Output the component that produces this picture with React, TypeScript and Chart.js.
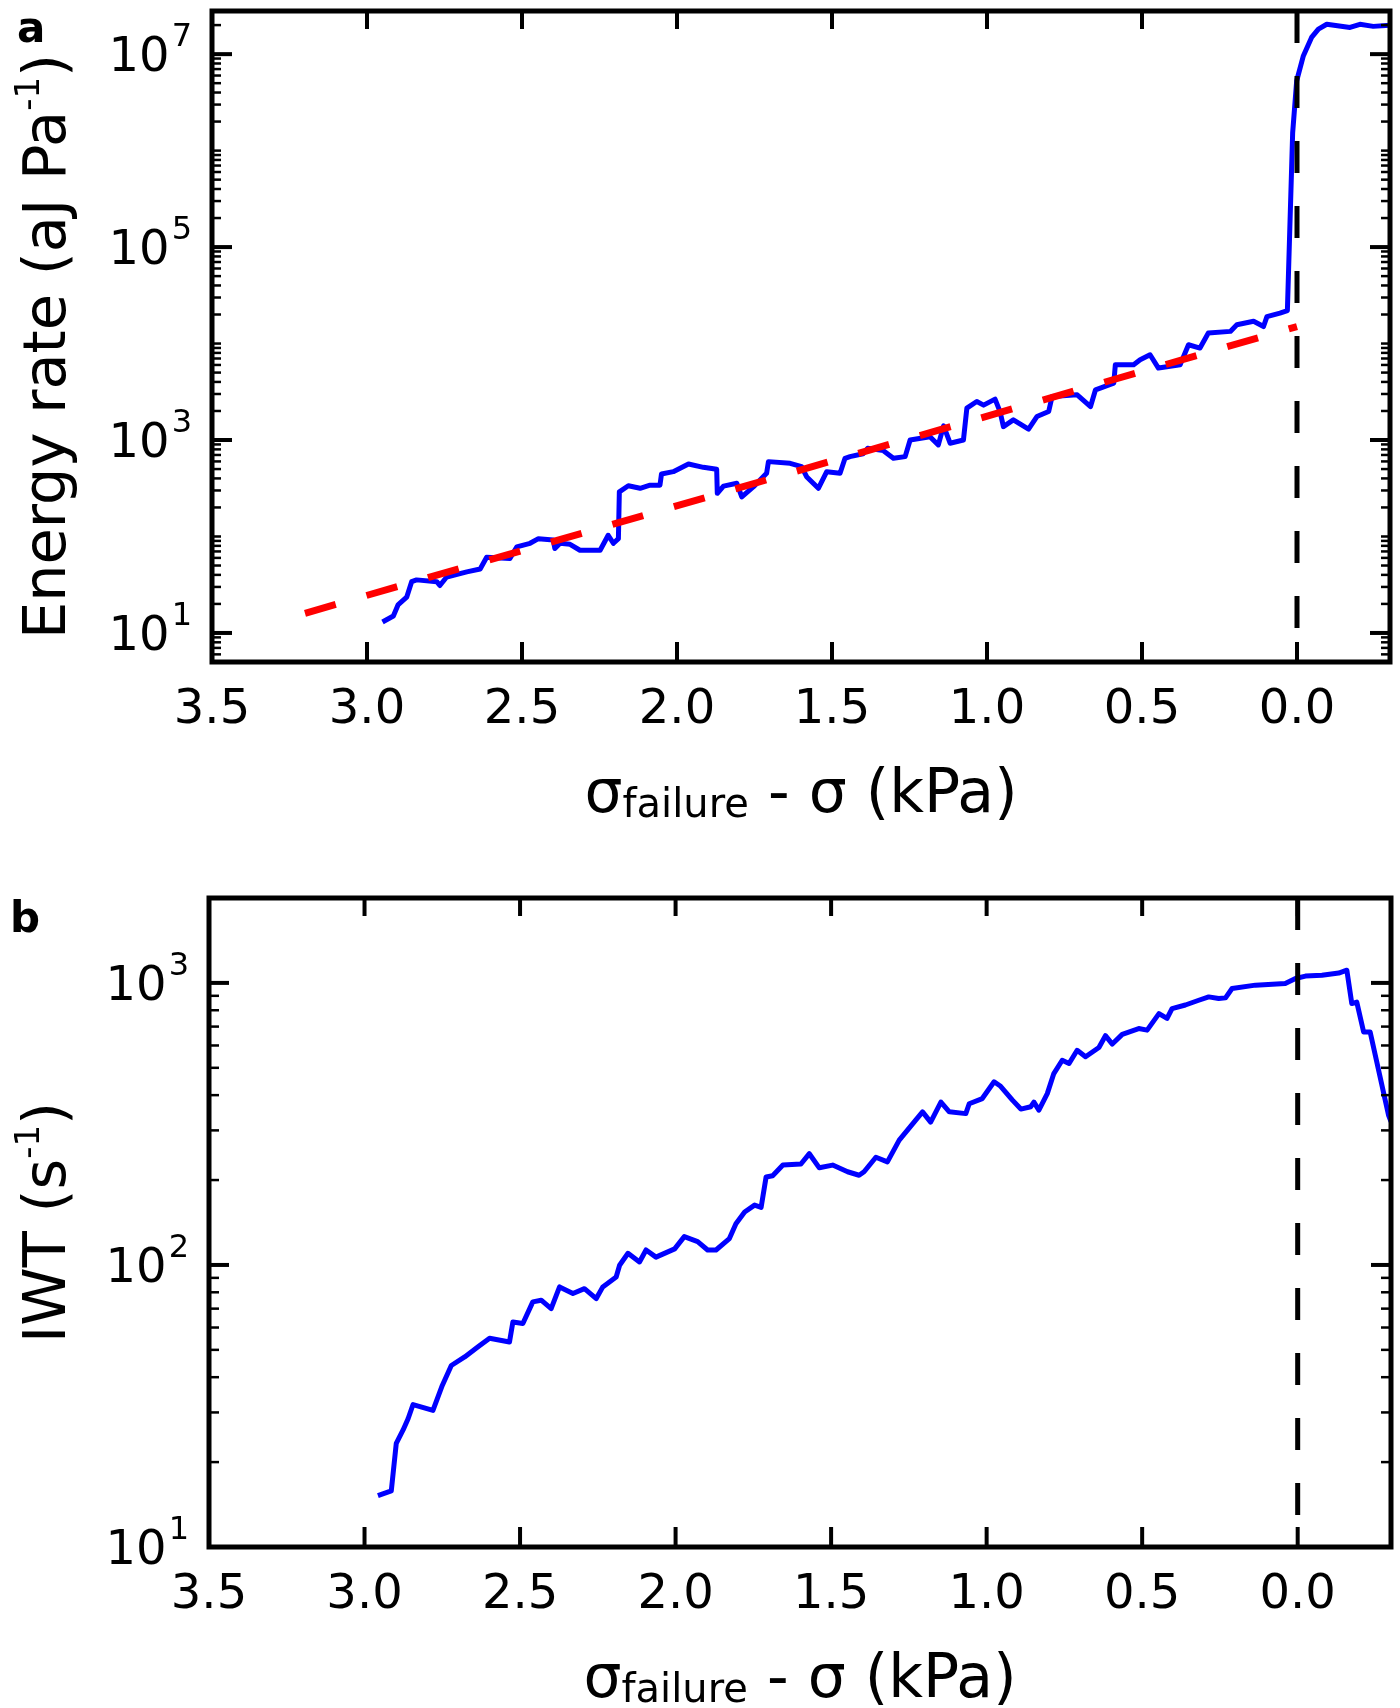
import { useEffect, useRef } from 'react';
import { Chart, registerables } from 'chart.js';

Chart.register(...registerables);

// panel a: energy rate (aJ Pa^-1) against sigma_failure - sigma (kPa)
const energyRate: [number, number][] = [
  [2.95, 13], [2.915, 15], [2.9, 19.5], [2.872, 23.5], [2.856, 34], [2.84, 35.5],
  [2.775, 34], [2.765, 31], [2.743, 38], [2.678, 43], [2.635, 46], [2.614, 61],
  [2.539, 59], [2.517, 78], [2.474, 85], [2.447, 95], [2.399, 92], [2.394, 75],
  [2.377, 85], [2.345, 83], [2.313, 72], [2.248, 72], [2.222, 103], [2.205, 85],
  [2.189, 95], [2.186, 290], [2.157, 336], [2.119, 316], [2.087, 340], [2.055, 340],
  [2.05, 445], [2.012, 470], [1.963, 565], [1.915, 521], [1.872, 498], [1.87, 280],
  [1.85, 333], [1.807, 356], [1.791, 257], [1.753, 328], [1.711, 452], [1.705, 597],
  [1.635, 574], [1.598, 530], [1.582, 417], [1.544, 316], [1.517, 470], [1.474, 452],
  [1.458, 647], [1.442, 673], [1.4, 720], [1.385, 820], [1.334, 776], [1.302, 647],
  [1.264, 673], [1.248, 1000], [1.184, 1083], [1.157, 889], [1.14, 1400], [1.119, 927],
  [1.076, 1000], [1.065, 2140], [1.033, 2506], [1.011, 2300], [0.974, 2655], [0.958, 1972],
  [0.947, 1377], [0.915, 1618], [0.866, 1294], [0.839, 1750], [0.801, 1972], [0.79, 2825],
  [0.709, 2940], [0.666, 2222], [0.65, 3313], [0.591, 3890], [0.586, 6025], [0.527, 6025],
  [0.506, 6790], [0.474, 7650], [0.447, 5570], [0.377, 6025], [0.35, 9720], [0.313, 8980],
  [0.286, 12850], [0.215, 13370], [0.194, 15670], [0.14, 17000], [0.108, 15000], [0.097, 19000],
  [0.055, 20700], [0.031, 22000], [0.014, 1.53e6], [0.001, 5.3e6], [-0.02, 9.5e6], [-0.047, 1.49e7],
  [-0.069, 1.82e7], [-0.096, 2.04e7], [-0.171, 1.89e7], [-0.203, 2.04e7], [-0.246, 1.94e7], [-0.3, 1.99e7],
];

// exponential fit (straight on the log axis)
const energyFit: [number, number][] = [[3.2, 16], [0.0, 15000]];

// panel b: IWT (s^-1)
const iwt: [number, number][] = [
  [2.957, 15.2], [2.914, 15.8], [2.898, 23.3], [2.876, 26], [2.86, 28.5], [2.844, 32],
  [2.78, 30.5], [2.75, 37.4], [2.721, 44], [2.678, 47.2], [2.636, 51.2], [2.598, 55],
  [2.534, 53.3], [2.523, 62.8], [2.491, 62], [2.459, 74], [2.432, 75], [2.4, 70],
  [2.373, 83.6], [2.33, 79.2], [2.293, 82.4], [2.255, 76], [2.234, 83.6], [2.191, 90.6],
  [2.18, 99.8], [2.153, 110], [2.116, 102.5], [2.095, 113], [2.063, 106.6], [2.003, 114],
  [1.972, 126], [1.929, 121], [1.897, 113], [1.87, 113], [1.827, 124], [1.806, 140],
  [1.778, 154], [1.746, 163], [1.725, 160], [1.709, 205], [1.688, 207], [1.655, 226],
  [1.597, 228], [1.57, 248], [1.538, 221], [1.495, 226], [1.447, 214], [1.41, 208],
  [1.394, 214], [1.356, 241], [1.319, 232], [1.281, 277], [1.228, 326], [1.206, 349],
  [1.18, 321], [1.147, 378], [1.12, 349], [1.067, 344], [1.056, 373], [1.014, 389],
  [0.976, 446], [0.955, 430], [0.917, 384], [0.89, 357], [0.858, 364], [0.848, 378],
  [0.832, 354], [0.805, 405], [0.784, 477], [0.757, 532], [0.735, 518], [0.709, 577],
  [0.682, 547], [0.639, 590], [0.618, 650], [0.596, 607], [0.564, 657], [0.511, 689],
  [0.484, 680], [0.446, 778], [0.42, 748], [0.404, 811], [0.361, 835], [0.318, 868],
  [0.286, 892], [0.254, 880], [0.232, 885], [0.211, 955], [0.136, 982], [0.04, 995],
  [0.007, 1037], [-0.025, 1057], [-0.078, 1064], [-0.132, 1084], [-0.158, 1109], [-0.174, 845],
  [-0.19, 855], [-0.212, 670], [-0.233, 670], [-0.292, 340], [-0.3, 322],
];

const xTicks = [3.5, 3.0, 2.5, 2.0, 1.5, 1.0, 0.5, 0.0];
const energyDecades = [1, 3, 5, 7];
const iwtDecades = [1, 2, 3];

const FONT = '"DejaVu Sans", "Liberation Sans", sans-serif';

type Run = { t: string; size: number; dy: number };

function runsWidth(ctx: CanvasRenderingContext2D, runs: Run[]) {
  let w = 0;
  for (const r of runs) {
    ctx.font = `${r.size}px ${FONT}`;
    w += ctx.measureText(r.t).width;
  }
  return w;
}

function drawRuns(ctx: CanvasRenderingContext2D, runs: Run[], cx: number, base: number) {
  let x = cx - runsWidth(ctx, runs) / 2;
  ctx.textAlign = 'left';
  ctx.textBaseline = 'alphabetic';
  for (const r of runs) {
    ctx.font = `${r.size}px ${FONT}`;
    ctx.fillText(r.t, x, base + r.dy);
    x += ctx.measureText(r.t).width;
  }
}

type PanelOpts = {
  letter: string;
  letterPos: [number, number];
  decades: number[];
  yMin: number;
  yMax: number;
  yTitle: Run[];
  yTitleShift: number;
  minorLen: number;
};

function logTicks(min: number, max: number, decades: number[]) {
  const major: number[] = [];
  const minor: number[] = [];
  for (let e = Math.floor(Math.log10(min)); e <= Math.ceil(Math.log10(max)); e++) {
    for (let k = 1; k <= 9; k++) {
      const v = k * Math.pow(10, e);
      if (v < min || v > max) continue;
      if (k === 1 && decades.includes(e)) major.push(v);
      else minor.push(v);
    }
  }
  return { major, minor };
}

function framePlugin(o: PanelOpts) {
  return {
    id: 'frame',
    afterDraw(chart: Chart) {
      const { ctx, chartArea: a } = chart;
      const xs = chart.scales.x;
      const ys = chart.scales.y;
      const { major, minor } = logTicks(o.yMin, o.yMax, o.decades);
      ctx.save();
      ctx.strokeStyle = '#000';
      ctx.fillStyle = '#000';
      ctx.lineCap = 'butt';
      const seg = (x1: number, y1: number, x2: number, y2: number) => {
        ctx.beginPath();
        ctx.moveTo(x1, y1);
        ctx.lineTo(x2, y2);
        ctx.stroke();
      };
      ctx.lineWidth = 2.5;
      for (const v of minor) {
        const py = ys.getPixelForValue(v);
        seg(a.left, py, a.left + o.minorLen, py);
        seg(a.right, py, a.right - o.minorLen, py);
      }
      ctx.lineWidth = 4;
      for (const v of major) {
        const py = ys.getPixelForValue(v);
        seg(a.left, py, a.left + 20, py);
        seg(a.right, py, a.right - 20, py);
      }
      for (const t of xTicks) {
        const px = xs.getPixelForValue(t);
        seg(px, a.bottom, px, a.bottom - 20);
        seg(px, a.top, px, a.top + 18);
      }
      ctx.lineWidth = 5;
      ctx.strokeRect(a.left, a.top, a.right - a.left, a.bottom - a.top);

      // x tick labels
      ctx.font = `48px ${FONT}`;
      ctx.textAlign = 'center';
      ctx.textBaseline = 'alphabetic';
      for (const t of xTicks) {
        ctx.fillText(t.toFixed(1), xs.getPixelForValue(t), a.bottom + 61);
      }

      // y tick labels 10^n
      for (const e of o.decades) {
        const py = ys.getPixelForValue(Math.pow(10, e));
        ctx.textAlign = 'right';
        ctx.font = `32px ${FONT}`;
        const sw = ctx.measureText(String(e)).width;
        ctx.fillText(String(e), a.left - 20, py - 8);
        ctx.font = `48px ${FONT}`;
        ctx.fillText('10', a.left - 22 - sw, py + 17);
      }

      // x axis title
      drawRuns(ctx, [
        { t: 'σ', size: 60, dy: 0 },
        { t: 'failure', size: 40, dy: 5 },
        { t: ' - σ (kPa)', size: 60, dy: 0 },
      ], (a.left + a.right) / 2, a.bottom + 150);

      // y axis title, rotated
      ctx.save();
      ctx.translate(65, (a.top + a.bottom) / 2 + o.yTitleShift);
      ctx.rotate(-Math.PI / 2);
      drawRuns(ctx, o.yTitle, 0, 0);
      ctx.restore();

      // panel letter
      ctx.font = `bold 42px ${FONT}`;
      ctx.textAlign = 'left';
      ctx.fillText(o.letter, o.letterPos[0], o.letterPos[1]);
      ctx.restore();
    },
  };
}

function toPoints(p: [number, number][]) {
  return p.map(([x, y]) => ({ x, y }));
}

function Panel({ width, height, padding, series, opts }: {
  width: number;
  height: number;
  padding: { left: number; right: number; top: number; bottom: number };
  series: any[];
  opts: PanelOpts;
}) {
  const ref = useRef<HTMLCanvasElement | null>(null);
  useEffect(() => {
    if (!ref.current) return;
    const chart = new Chart(ref.current, {
      type: 'line',
      data: {
        datasets: [
          {
            data: [{ x: 0, y: opts.yMax }, { x: 0, y: opts.yMin }],
            borderColor: '#000',
            borderWidth: 5,
            borderDash: [32, 33],
            pointRadius: 0,
          },
          ...series,
        ],
      },
      options: {
        responsive: false,
        animation: false,
        layout: { padding },
        plugins: { legend: { display: false }, tooltip: { enabled: false } },
        scales: {
          x: { type: 'linear', min: -0.3, max: 3.5, reverse: true, display: false },
          y: { type: 'logarithmic', min: opts.yMin, max: opts.yMax, display: false },
        },
      },
      plugins: [framePlugin(opts)],
    });
    return () => chart.destroy();
  }, []);
  return (
    <canvas ref={ref} width={width} height={height} style={{ display: 'block', width, height }}></canvas>
  );
}

export default function App() {
  const energySeries = [
    {
      data: toPoints(energyFit),
      borderColor: '#ff0000',
      borderWidth: 7,
      borderDash: [32, 32],
      pointRadius: 0,
    },
    {
      data: toPoints(energyRate),
      borderColor: '#0000ff',
      borderWidth: 5,
      borderJoinStyle: 'round',
      pointRadius: 0,
    },
  ];
  const iwtSeries = [
    {
      data: toPoints(iwt),
      borderColor: '#0000ff',
      borderWidth: 5,
      borderJoinStyle: 'round',
      pointRadius: 0,
    },
  ];
  return (
    <div style={{ position: 'absolute', left: 0, top: 0, width: 1400, height: 1708, background: '#fff' }}>
      <Panel
        width={1400}
        height={830}
        padding={{ left: 212, right: 10, top: 11, bottom: 168 }}
        series={energySeries}
        opts={{
          letter: 'a',
          letterPos: [17, 42],
          decades: energyDecades,
          yMin: 5,
          yMax: 2.8e7,
          yTitle: [
            { t: 'Energy rate (aJ Pa', size: 59, dy: 0 },
            { t: '-1', size: 34, dy: -26 },
            { t: ')', size: 59, dy: 0 },
          ],
          yTitleShift: 10,
          minorLen: 9,
        }}
      />
      <Panel
        width={1400}
        height={878}
        padding={{ left: 209, right: 9, top: 68, bottom: 161 }}
        series={iwtSeries}
        opts={{
          letter: 'b',
          letterPos: [10, 102],
          decades: iwtDecades,
          yMin: 10,
          yMax: 2000,
          yTitle: [
            { t: 'IWT (s', size: 59, dy: 0 },
            { t: '-1', size: 34, dy: -26 },
            { t: ')', size: 59, dy: 0 },
          ],
          yTitleShift: 0,
          minorLen: 10,
        }}
      />
    </div>
  );
}
